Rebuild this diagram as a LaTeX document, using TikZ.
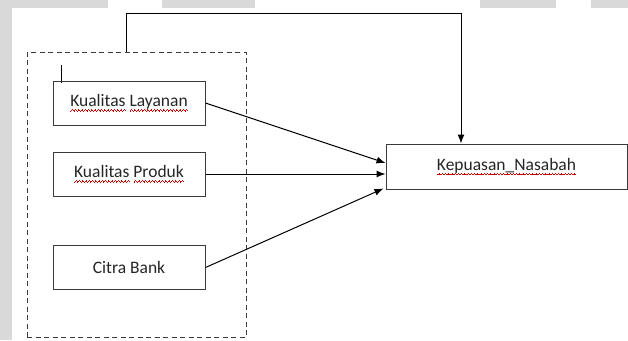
\documentclass[tikz,border=0pt]{standalone}
\usepackage{fontspec}
\setmainfont{Carlito}
\usetikzlibrary{arrows.meta,calc}
\definecolor{abu}{HTML}{D9D9D9}
\definecolor{garis}{HTML}{3A3A3A}
\newsavebox\kata
\newcommand\gelombang{\hbox{\rule[-4.6pt]{0.8pt}{0.7pt}\rule[-4pt]{0.8pt}{0.7pt}%
  \rule[-3.4pt]{0.8pt}{0.7pt}\rule[-4pt]{0.8pt}{0.7pt}}}
\newcommand\salah[1]{\sbox\kata{#1}%
  \rlap{\textcolor{red!80!black}{\hbox to\wd\kata{\xleaders\gelombang\hfill}}}\usebox\kata}
\begin{document}
\begin{tikzpicture}[>={Latex[length=9pt,width=7pt]},
    x=1pt, y=-1pt,
    kotak/.style={draw=garis,line width=1pt,minimum width=152pt,
      minimum height=44pt,inner sep=0pt,text=black!85,
      font=\fontsize{17.5}{20}\selectfont},
    panah/.style={->,line width=1pt}]
  \useasboundingbox (0,0) rectangle (628,340);
  % Latar
  \fill[white] (0,0) rectangle (628,340);
  \fill[abu] (0,0) rectangle (12,340);
  \fill[abu] (0,0) rectangle (108,8);
  \fill[abu] (162,0) rectangle (255,8);
  \fill[abu] (480,0) rectangle (556,8);
  \fill[abu] (591,0) rectangle (628,8);

  % Kelompok variabel bebas
  \node[draw=garis,dash pattern=on 5pt off 3.5pt,line width=1pt,
    minimum width=219pt,minimum height=285pt,inner sep=0pt]
    (kelompok) at (136.5,194.5) {};
  \draw[line width=0.7pt] (61,65)--(61,83);

  % Variabel
  \node[kotak] (layanan) at (129,103) {\salah{Kualitas} \salah{Layanan}};
  \node[kotak] (produk) at (129,174) {\salah{Kualitas} \salah{Produk}};
  \node[kotak] (citra) at (129,267.5) {Citra Bank};
  \node[kotak,minimum width=241pt,minimum height=45pt]
    (kepuasan) at (506.5,166.5) {\salah{Kepuasan\_Nasabah}};

  % Panah
  \coordinate (tuju1) at ($(kepuasan.west)+(0,-3.5)$);
  \coordinate (tuju3) at ($(kepuasan.west)+(-2,22)$);
  \draw[panah] (layanan.east)--(tuju1);
  \draw[panah] (produk.east)--(produk.east -| kepuasan.west);
  \draw[panah] (citra.east)--(tuju3);

  \coordinate (pangkal) at ($(kelompok.north)+(-10.5,0)$);
  \coordinate (masuk) at ($(kepuasan.north)+(-45.5,0)$);
  \draw[panah] (pangkal)--++(0,-38) -| (masuk);
\end{tikzpicture}
\end{document}
